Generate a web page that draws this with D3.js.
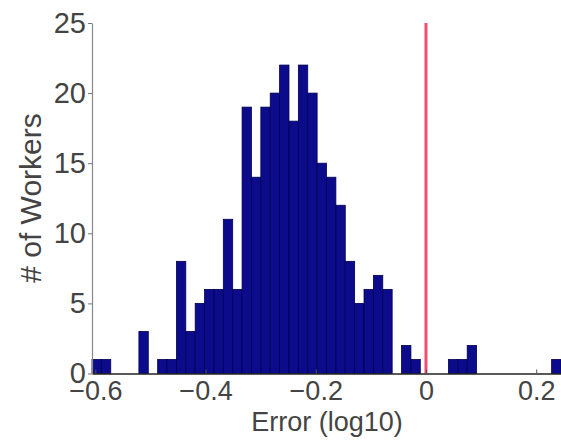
<!DOCTYPE html>
<html>
<head>
<meta charset="utf-8">
<script src="https://cdn.jsdelivr.net/npm/d3@7"></script>
<style>
  body { margin: 0; background: #fff; }
  text { font-family: "Liberation Sans", Arial, sans-serif; fill: #444; }
</style>
</head>
<body>
<div id="chart"></div>
<script>
// histogram counts, 50 equal bins between binMin and binMax
const binMin = -0.606;
const binMax = 0.245;
const counts = [1, 1, 0, 0, 0, 3, 0, 1, 1, 8,
                3, 5, 6, 6, 11, 6, 19, 14, 19, 20,
                22, 18, 22, 20, 15, 14, 12, 8, 5, 6,
                7, 6, 0, 2, 1, 0, 0, 0, 1, 1,
                2, 0, 0, 0, 0, 0, 0, 0, 0, 1];
const xTicks = [-0.6, -0.4, -0.2, 0, 0.2];
const yTicks = [0, 5, 10, 15, 20, 25];
const refLine = 0;

const W = 561, H = 442;
const margin = {top: 23, right: 0, bottom: 68.5, left: 92};
const width = W - margin.left - margin.right;
const height = H - margin.top - margin.bottom;

const binW = (binMax - binMin) / counts.length;
const bins = counts.map((c, i) => ({x0: binMin + i * binW, x1: binMin + (i + 1) * binW, n: c}));

const svg = d3.select("#chart").append("svg")
    .attr("width", W)
    .attr("height", H)
  .append("g")
    .attr("transform", `translate(${margin.left},${margin.top})`);

const x = d3.scaleLinear().domain([binMin, binMax]).range([0, width]);
const y = d3.scaleLinear().domain([0, 25]).range([height, 0]);

// bars
svg.selectAll("rect.bar")
    .data(bins.filter(b => b.n > 0))
    .enter()
    .append("rect")
    .attr("class", "bar")
    .attr("x", b => x(b.x0))
    .attr("width", b => x(b.x1) - x(b.x0))
    .attr("y", b => y(b.n))
    .attr("height", b => y(0) - y(b.n))
    .attr("fill", "#0b0b8c")
    .attr("stroke", "#000050")
    .attr("stroke-width", 0.8);

// red reference line
svg.append("line")
    .attr("x1", x(refLine)).attr("x2", x(refLine))
    .attr("y1", y(25)).attr("y2", y(0))
    .attr("stroke", "#ef5070")
    .attr("stroke-width", 3);

// axes
const xAxis = svg.append("g")
    .attr("transform", `translate(0,${height})`)
    .call(d3.axisBottom(x).tickValues(xTicks).tickSizeInner(-4).tickSizeOuter(0)
        .tickPadding(7)
        .tickFormat(d => d === 0 ? "0" : d3.format(".1f")(d).replace("-", "\u2013")));
xAxis.select(".domain").attr("stroke", "#222").attr("stroke-width", 1.5);
xAxis.selectAll(".tick line").attr("stroke", "#555");
xAxis.selectAll(".tick text").style("font-size", "27px").attr("fill", "#444");

const yAxis = svg.append("g")
    .call(d3.axisLeft(y).tickValues(yTicks).tickSizeInner(4).tickSizeOuter(0)
        .tickPadding(2));
yAxis.select(".domain").attr("stroke", "#888").attr("stroke-width", 1.2);
yAxis.selectAll(".tick line").attr("stroke", "#777");
yAxis.selectAll(".tick text").style("font-size", "29px").attr("fill", "#444");

// axis labels
svg.append("text")
    .attr("x", 235)
    .attr("y", height + 57.5)
    .attr("text-anchor", "middle")
    .style("font-size", "27px")
    .text("Error (log10)");

svg.append("text")
    .attr("transform", `translate(${41 - margin.left},${198 - margin.top}) rotate(-90)`)
    .attr("text-anchor", "middle")
    .style("font-size", "30px")
    .text("# of Workers");
</script>
</body>
</html>
